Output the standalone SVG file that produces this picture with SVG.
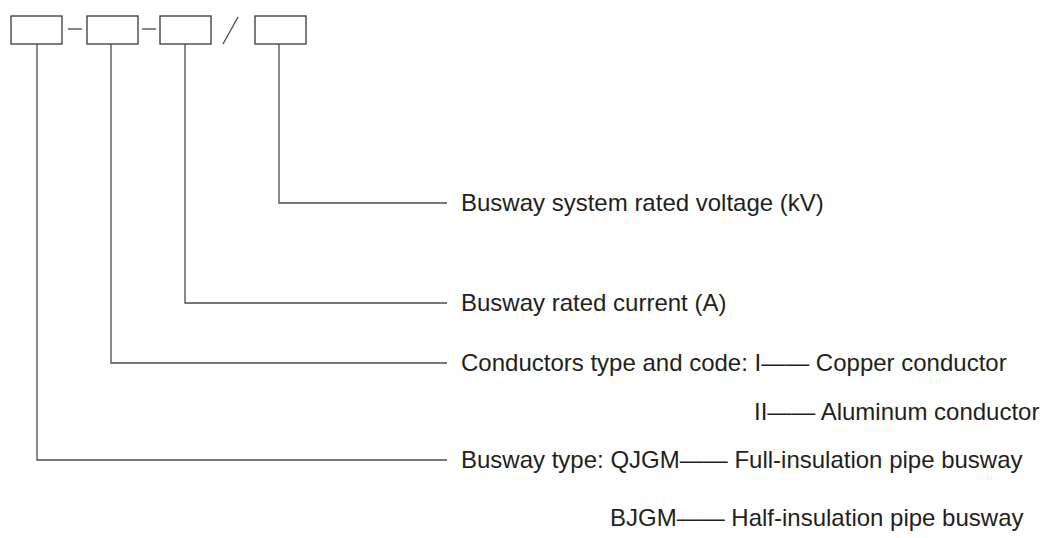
<svg xmlns="http://www.w3.org/2000/svg" width="1043" height="538" viewBox="0 0 1043 538">
<style>
.box{fill:#fff;stroke:#3a3536;stroke-width:1.3}
.ln{fill:none;stroke:#4d4849;stroke-width:1.3}
.t{font-family:"Liberation Sans",Arial,sans-serif;font-size:24px;fill:#231f20}
</style>
<rect width="1043" height="538" fill="#fff"/>
<g id="code">
<rect id="box1" class="box" x="11" y="16" width="51" height="28"/>
<rect id="box2" class="box" x="87" y="16" width="51" height="28"/>
<rect id="box3" class="box" x="160" y="16" width="51" height="28"/>
<rect id="box4" class="box" x="255" y="16" width="51" height="28"/>
<line class="ln" x1="68" y1="29" x2="82" y2="29"/>
<line class="ln" x1="142" y1="29" x2="156" y2="29"/>
<line class="ln" x1="223" y1="44" x2="238" y2="17"/>
</g>
<g id="connectors">
<polyline class="ln" points="279,44 279,203 447,203"/>
<polyline class="ln" points="185,44 185,303 447,303"/>
<polyline class="ln" points="111,44 111,363 447,363"/>
<polyline class="ln" points="37,44 37,460 447,460"/>
</g>
<g id="label-voltage"><text class="t" x="461" y="211">Busway system rated voltage (kV)</text></g>
<g id="label-current"><text class="t" x="461" y="311">Busway rated current (A)</text></g>
<g id="label-conductor">
<text class="t" x="461" y="371">Conductors type and code: I—— Copper conductor</text>
<text class="t" x="754" y="420">II—— Aluminum conductor</text>
</g>
<g id="label-type">
<text class="t" x="461" y="468">Busway type: QJGM—— Full-insulation pipe busway</text>
<text class="t" x="610" y="526">BJGM—— Half-insulation pipe busway</text>
</g>
</svg>
